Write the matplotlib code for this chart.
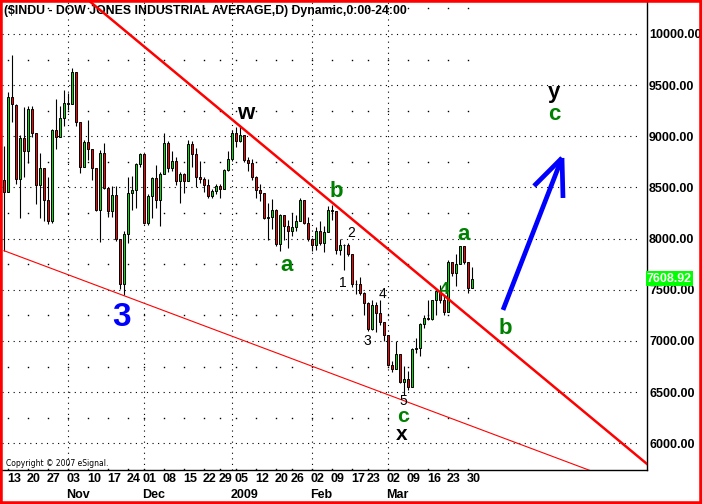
import pandas as pd
import matplotlib.pyplot as plt
from matplotlib.patches import Rectangle

# trading days shown, Oct 10 2008 .. Mar 31 2009
holidays = ['2008-11-27', '2008-12-25', '2009-01-01', '2009-01-19', '2009-02-16']
days = pd.bdate_range('2008-10-10', '2009-03-31')
days = days[~days.isin(pd.to_datetime(holidays))]

opens = [8568, 8452, 9388, 9310, 8578, 8980, 8852, 9266, 9034, 8519, 8691, 8379, 8176, 9065, 8991, 9181,
         9325, 9320, 9625, 9139, 8696, 8944, 8871, 8694, 8283, 8835, 8497, 8274, 8425, 7997, 7552, 8046, 8443, 8479, 8727,
         8829, 8149, 8419, 8592, 8376, 8635, 8934, 8691, 8761, 8565, 8630, 8565, 8924, 8824, 8605, 8579, 8520, 8419, 8468, 8516, 8484, 8668,
         8776, 9035, 8953, 9015, 8770, 8742, 8599, 8474, 8449, 8200, 8212, 8281, 7949, 8228, 8123, 8078, 8116, 8175, 8375, 8149,
         8001, 7937, 8078, 7957, 8063, 8281, 8271, 7889, 7940, 7933, 7850, 7553, 7556, 7466, 7366, 7115, 7351, 7271, 7182,
         7063, 6763, 6726, 6876, 6594, 6627, 6547, 6926, 6930, 7170, 7224, 7217, 7396, 7487, 7401, 7278, 7776, 7660, 7750, 7925, 7776, 7522]
highs = [8901, 9428, 9794, 9311, 9013, 9290, 9300, 9300, 9034, 8836, 8691, 8599, 9070, 9366, 9300, 9455,
         9420, 9665, 9625, 9139, 8960, 9159, 8871, 8694, 8866, 8932, 8497, 8510, 8510, 8000, 8070, 8606, 8612, 8740, 8840,
         8830, 8440, 8600, 8720, 8650, 9029, 8950, 8860, 8800, 8650, 8640, 8960, 8950, 8890, 8760, 8600, 8580, 8480, 8530, 8530, 8680, 8860,
         9065, 9090, 9090, 9015, 8800, 8780, 8610, 8530, 8450, 8345, 8390, 8290, 8240, 8228, 8182, 8250, 8230, 8400, 8375, 8210,
         8010, 8110, 8170, 8120, 8320, 8330, 8271, 8000, 7950, 7960, 7850, 7600, 7620, 7480, 7380, 7400, 7380, 7400, 7190,
         7063, 6800, 7000, 6876, 6760, 6710, 6930, 7030, 7180, 7250, 7400, 7400, 7500, 7550, 7450, 7790, 7776, 7850, 7930, 7925, 7776, 7720]
lows = [7882, 8452, 9138, 8530, 8197, 8604, 8740, 8990, 8338, 8200, 8175, 8143, 8150, 8874, 8990, 9100,
        9257, 9320, 9100, 8640, 8696, 8768, 8573, 8270, 7966, 8480, 8210, 8210, 7980, 7508, 7449, 7960, 8280, 8300, 8700,
        8140, 8133, 8200, 8300, 8123, 8630, 8650, 8660, 8520, 8352, 8450, 8560, 8700, 8500, 8540, 8460, 8400, 8400, 8440, 8397, 8480, 8660,
        8760, 8900, 8940, 8750, 8660, 8570, 8400, 8370, 8190, 7986, 8090, 7930, 7880, 7990, 7908, 8030, 8070, 8175, 8140, 7980,
        7880, 7890, 7940, 7870, 8060, 8180, 7850, 7840, 7694, 7830, 7530, 7460, 7450, 7250, 7100, 7110, 7090, 7160, 7000,
        6760, 6700, 6726, 6590, 6470, 6517, 6547, 6880, 6850, 7130, 7200, 7200, 7250, 7370, 7250, 7278, 7630, 7540, 7750, 7750, 7470, 7522]
closes = [8451, 9388, 9311, 8578, 8979, 8852, 9265, 9034, 8519, 8691, 8379, 8176, 9065, 8991, 9181, 9325,
          9320, 9625, 9139, 8696, 8944, 8871, 8694, 8283, 8835, 8497, 8274, 8425, 7997, 7552, 8046, 8443, 8479, 8727, 8829,
          8149, 8419, 8592, 8376, 8635, 8934, 8691, 8761, 8565, 8630, 8565, 8924, 8824, 8605, 8579, 8520, 8419, 8468, 8516, 8484, 8668, 8776,
          9035, 8953, 9015, 8770, 8742, 8599, 8474, 8449, 8200, 8212, 8281, 7949, 8228, 8123, 8078, 8116, 8175, 8375, 8149, 8001,
          7937, 8078, 7957, 8063, 8281, 8271, 7889, 7940, 7933, 7850, 7553, 7556, 7466, 7366, 7115, 7351, 7271, 7182, 7063,
          6763, 6726, 6876, 6594, 6627, 6547, 6926, 6930, 7170, 7224, 7217, 7396, 7487, 7401, 7278, 7776, 7660, 7750, 7925, 7776, 7522, 7609]
last_price = 7608.92

price_levels = [6000, 6500, 7000, 7500, 8000, 8500, 9000, 9500, 10000]
month_names = ['Nov', 'Dec', '2009', 'Feb', 'Mar']

# trendlines (index, value) and the projection arrow
upper_line = [(21, 10332), (160.75, 5798)]
lower_line = [(0, 7882), (150, 5683)]
arrow_shaft = [(124.75, 7303), (139.5, 8788)]
arrow_left = [(132.5, 8514), (139.5, 8788)]
arrow_right = [(139.5, 8788), (139.75, 8397)]

df = pd.DataFrame({'date': days, 'o': opens, 'h': highs, 'l': lows, 'c': closes})
df['i'] = range(len(df))

GREEN = '#00e000'
RED = '#ff0000'
FONT = ['Liberation Sans', 'DejaVu Sans']

fig = plt.figure(figsize=(7.02, 5.04), dpi=100)
ax = fig.add_axes([2 / 702, 34 / 504, 645 / 702, 468 / 504])
ax.set_xlim(-0.5, 160.75)
ax.set_ylim(5739, 10312)

# grid
ax.hlines(price_levels, -0.5, 158.25, colors='black', linestyles=(0, (1, 4)), lw=0.8, zorder=1)
week_first = df.groupby(df['date'].dt.to_period('W'))['i'].first().values
month_first = df.groupby(df['date'].dt.to_period('M'))['i'].first().values[1:]
ax.vlines(month_first, 5739, 10312, colors='black', linestyles=(0, (1, 4)), lw=0.8, zorder=1)
for lvl in range(5750, 10300, 500):
    ax.plot(week_first[1:], [lvl] * len(week_first[1:]), 's', ms=1, color='black', mew=0, zorder=1)

# candles
ax.vlines(df['i'], df['l'], df['h'], color='black', lw=0.8, zorder=3)
up = df['c'] >= df['o']
body = (df['c'] - df['o']).abs().clip(lower=8)
bottom = df[['o', 'c']].min(axis=1)
ax.bar(df['i'], body, bottom=bottom, width=0.7, color=[GREEN if u else RED for u in up],
       edgecolor='black', lw=0.7, zorder=4)

# trendlines
ax.plot(*zip(*upper_line), color='#ff0000', lw=1.8, zorder=5)
ax.plot(*zip(*lower_line), color='#ff0000', lw=0.8, zorder=5)
for seg in (arrow_shaft, arrow_left, arrow_right):
    ax.plot(*zip(*seg), color='#0000ff', lw=3.4, solid_capstyle='butt', zorder=5)

# wave labels
def lab(x, y, s, color='black', size=16, weight='bold'):
    ax.text(x, y, s, color=color, fontsize=size, fontweight=weight, ha='center', va='center',
            family='Liberation Sans', zorder=6)

lab(60.5, 9218, 'w')
lab(83, 8457, 'b', '#008000')
lab(70.75, 7733, 'a', '#008000')
lab(86.75, 8055, '2', size=10, weight='normal')
lab(84.75, 7567, '1', size=10, weight='normal')
lab(94.75, 7459, '4', size=10, weight='normal')
lab(90.75, 7000, '3', size=10, weight='normal')
lab(99.75, 6410, '5', size=10, weight='normal')
lab(99.75, 6262, 'c', '#008000', size=15)
lab(99.5, 6085, 'x', size=15)
lab(29.5, 7225, '3', '#0000ff', size=24)
lab(115, 8045, 'a', '#008000')
lab(125.25, 7117, 'b', '#008000')
lab(137.5, 9425, 'y')
lab(137.5, 9210, 'c', '#008000')
lab(110, 7499, '4', '#008000', size=12)

ax.text(0.003, 0.993, '($INDU - DOW JONES INDUSTRIAL AVERAGE,D) Dynamic,0:00-24:00',
        transform=ax.transAxes, fontsize=8.8, fontweight='bold', family=FONT, va='top', ha='left')
ax.text(0.5, 5800, 'Copyright \u00a9 2007 eSignal.', fontsize=5.5, family='DejaVu Sans', va='center')

# axes and ticks
for side in ('top', 'left'):
    ax.spines[side].set_visible(False)
ax.spines['right'].set_linewidth(1.0)
ax.spines['bottom'].set_linewidth(1.0)
ax.yaxis.tick_right()
ax.set_yticks(price_levels)
ax.set_yticklabels([f'{v:.2f}' for v in price_levels])
ax.tick_params(axis='y', length=0, pad=1.5)
ax.set_xticks(week_first[1:] - 0.3)
ax.set_xticklabels([str(d.day).zfill(2) for d in df['date'].iloc[week_first[1:]]])
ax.set_xticks(month_first - 0.4, minor=True)
ax.set_xticklabels(month_names, minor=True)
ax.tick_params(axis='x', which='both', length=0)
ax.tick_params(axis='x', which='major', pad=2)
ax.tick_params(axis='x', which='minor', pad=14)
for t in ax.get_xticklabels(which='both') + ax.get_yticklabels():
    t.set_fontfamily(FONT)
    t.set_fontweight('bold')
    t.set_fontsize(9)
for t in ax.get_xticklabels(which='both'):
    t.set_ha('left')

ax.text(1.0, last_price, '7608.92', transform=ax.get_yaxis_transform(), color='white', fontsize=9,
        fontweight='bold', family=FONT, va='center', ha='left',
        bbox=dict(boxstyle='square,pad=0.1', fc='#00ff00', ec='none'), zorder=10, clip_on=False)

fig.patches.append(Rectangle((0, 0), 1, 1, transform=fig.transFigure, fill=False, edgecolor='red', lw=4))
fig.savefig('out.png', dpi=100)
